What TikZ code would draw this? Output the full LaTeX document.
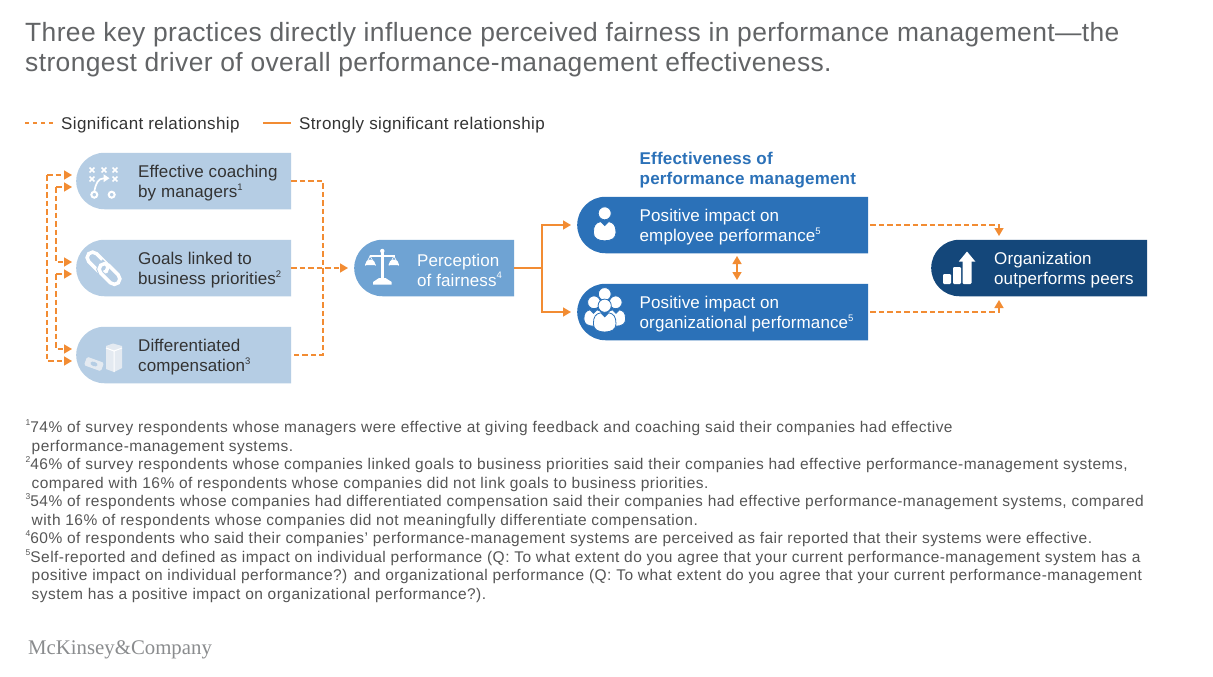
\documentclass[tikz,border=0pt]{standalone}
\usepackage{fontspec}
\setmainfont{Liberation Sans}
\newfontfamily\logofont{Liberation Serif}
\usetikzlibrary{arrows.meta,shapes.misc,calc}
\definecolor{orng}{HTML}{F28C33}
\definecolor{lightblue}{HTML}{B5CDE4}
\definecolor{midblue}{HTML}{6FA3D3}
\definecolor{strongblue}{HTML}{2B71B8}
\definecolor{navy}{HTML}{14477A}
\definecolor{titlegray}{HTML}{626466}
\definecolor{bodygray}{HTML}{333333}
\definecolor{notegray}{HTML}{555555}
\definecolor{logogray}{HTML}{8A8C8E}
\definecolor{palewhite}{HTML}{E4EAF1}
\newcommand{\fs}[2]{\fontsize{#1}{#2}\selectfont}
\newcommand{\sps}[1]{\raisebox{.42em}{\fs{9.5}{9.5}#1}}
\newcommand{\nsp}[1]{\raisebox{.42em}{\fs{8.5}{8.5}#1}}
\newcommand{\headshape}[3]{\fill[white,draw=strongblue,line width=.8pt] (#1,#2) circle (#3);}
\newcommand{\bodyshape}[3]{% x y scale
  \begin{scope}[shift={(#1,#2)},scale=#3]
    \fill[white,draw=strongblue,line width=.8pt] (-4,-1.4) -- (0,2.6) -- (4,-1.4)
      .. controls (9,-.5) and (11.3,2.5) .. (11.3,9.5) .. controls (11.3,15.5) and (6.5,17.8) .. (0,17.8)
      .. controls (-6.5,17.8) and (-11.3,15.5) .. (-11.3,9.5) .. controls (-11.3,2.5) and (-9,-.5) .. (-4,-1.4) -- cycle;
  \end{scope}}
\newcommand{\xmark}[2]{\draw[white,line width=1.7pt] (#1-2.4,#2-2.4) -- (#1+2.4,#2+2.4) (#1-2.4,#2+2.4) -- (#1+2.4,#2-2.4);}
\tikzset{
  x=1pt,y=-1pt,
  pill/.style={rounded rectangle,rounded rectangle right arc=none,minimum height=56.5pt,inner sep=0pt,draw=none,anchor=west},
  practice/.style={pill,fill=lightblue,minimum width=215pt},
  fairness/.style={pill,fill=midblue,minimum width=160pt},
  impact/.style={pill,fill=strongblue,minimum width=291pt},
  outcome/.style={pill,fill=navy,minimum width=216pt},
  darktext/.style={anchor=west,align=left,inner sep=0pt,text=bodygray,font=\fs{17}{20}\addfontfeatures{LetterSpace=0.6}},
  lighttext/.style={anchor=west,align=left,inner sep=0pt,text=white,font=\fs{17}{20}\addfontfeatures{LetterSpace=0.6}},
  headtext/.style={anchor=west,align=left,inner sep=0pt,text=strongblue,font=\fs{17}{20}\bfseries\addfontfeatures{LetterSpace=1.1}},
  titleline/.style={anchor=base west,inner sep=0pt,text=titlegray,font=\fs{26.4}{30}\addfontfeatures{LetterSpace=1.5}},
  legendtext/.style={anchor=base west,inner sep=0pt,text=bodygray,font=\fs{17}{20}\addfontfeatures{LetterSpace=2.2}},
  noteline/.style={anchor=base west,inner sep=0pt,text=notegray,font=\fs{15.5}{18}\addfontfeatures{LetterSpace=3.0}},
  solidlink/.style={draw=orng,line width=1.4pt},
  dashlink/.style={draw=orng,line width=1.5pt,dash pattern=on 5.5pt off 3pt},
  tip/.style={-{Triangle[length=8pt,width=9pt]}},
  tips/.style={{Triangle[length=8pt,width=9pt]}-{Triangle[length=8pt,width=9pt]}}
}
\begin{document}
\begin{tikzpicture}
\useasboundingbox (0,0) rectangle (1213,677);
\fill[white] (0,0) rectangle (1213,677);
% title
\node[titleline] (t1) at (25,42) {Three key practices directly influence perceived fairness in performance management—the};
\node[titleline] (t2) at (25,71) {strongest driver of overall performance-management effectiveness.};
% legend
\coordinate (ld1) at (25,123); \coordinate (ld2) at (54,123);
\coordinate (ls1) at (263,123); \coordinate (ls2) at (291,123);
\draw[dashlink,line width=1.2pt,dash pattern=on 4pt off 4pt] (ld1) -- (ld2);
\draw[solidlink] (ls1) -- (ls2);
\node[legendtext] (lt1) at (61,129) {Significant relationship};
\node[legendtext] (lt2) at (299,129) {Strongly significant relationship};
% boxes
\node[practice] (b1) at (76,181) {};
\node[practice] (b2) at (76,268) {};
\node[practice] (b3) at (76,355) {};
\node[fairness] (fair) at (354,268) {};
\node[impact] (imp1) at (577,225) {};
\node[impact] (imp2) at (577,312) {};
\node[outcome] (org) at (931,268) {};
% box texts
\node[darktext] (b1t) at (138,183) {Effective coaching\\by managers\sps{1}};
\node[darktext] (b2t) at (138,270) {Goals linked to\\business priorities\sps{2}};
\node[darktext] (b3t) at (138,357) {Differentiated\\compensation\sps{3}};
\node[lighttext] (fairt) at (417,270) {Perception\\of fairness\sps{4}};
\node[lighttext] (imp1t) at (639.5,227) {Positive impact on\\employee performance\sps{5}};
\node[lighttext] (imp2t) at (639.5,314) {Positive impact on\\organizational performance\sps{5}};
\node[lighttext] (orgt) at (994,270) {Organization\\outperforms peers};
\node[headtext] (efft) at (639.5,170.5) {Effectiveness of\\performance management};
% ports
\coordinate (b1a) at ($(b1.west)+(-4,-6)$);
\coordinate (b1b) at ($(b1.west)+(-4,6)$);
\coordinate (b2a) at ($(b2.west)+(-4,-6)$);
\coordinate (b2b) at ($(b2.west)+(-4,6)$);
\coordinate (b3a) at ($(b3.west)+(-4,-6)$);
\coordinate (b3b) at ($(b3.west)+(-4,6)$);
\coordinate (outer) at (47,0);
\coordinate (inner) at (56,0);
\coordinate (rbus) at (323,0);
\coordinate (fbus) at (542,0);
\coordinate (imp1w) at ($(imp1.west)+(-6,0)$);
\coordinate (imp2w) at ($(imp2.west)+(-6,0)$);
\coordinate (fairw) at ($(fair.west)+(-6,0)$);
\coordinate (orgn) at (999,236);
\coordinate (orgs) at (999,300);
\coordinate (dbl1) at (737,256);
\coordinate (dbl2) at (737,280);
% connectors
\draw[dashlink,tip] (outer |- b1a) -- (b1a);
\draw[dashlink,tip] (outer |- b1a) -- (outer |- b3b) -- (b3b);
\draw[dashlink,tip] (inner |- b1b) -- (b1b);
\draw[dashlink,tip] (inner |- b1b) -- (inner |- b2a) -- (b2a);
\draw[dashlink,tip] (inner |- b2b) -- (b2b);
\draw[dashlink,tip] (inner |- b2b) -- (inner |- b3a) -- (b3a);
\draw[dashlink] (b1.east) -| (rbus |- b3.east) -- (b3.east);
\draw[dashlink,tip] (b2.east) -- (fairw);
\draw[solidlink] (fair.east) -- (fbus |- fair.east);
\draw[solidlink,tip] (fbus |- fair.east) |- (imp1w);
\draw[solidlink,tip] (fbus |- fair.east) |- (imp2w);
\draw[solidlink,tips] (dbl1) -- (dbl2);
\draw[dashlink,tip] ([xshift=2pt]imp1.east) -| (orgn);
\draw[dashlink,tip] ([xshift=2pt]imp2.east) -| (orgs);
% coaching icon
\xmark{92}{170}\xmark{104}{170}\xmark{115}{170}\xmark{92}{179}\xmark{115}{179}
\draw[white,line width=1.7pt] (94.3,191.5) .. controls (96,183) and (98,178.5) .. (104,178.3);
\fill[white] (109.5,178.2) -- (103.5,174.2) -- (103.5,182.2) -- cycle;
\draw[white,line width=2pt] (94.3,194.7) circle (3);
\draw[white,line width=2pt] (111.7,194.7) circle (3);
% chain icon
\begin{scope}[shift={(97.5,262.5)},rotate=-45]
  \draw[white,line width=3.5pt,rounded corners=5.5pt] (-12.4,-5.5) rectangle (12.4,5.5);
\end{scope}
\begin{scope}[shift={(109.5,274)},rotate=-45]
  \draw[lightblue,line width=5.5pt,rounded corners=5.5pt] (-12.4,-5.5) -- (-12.4,5.5) -- (0,5.5);
  \draw[white,line width=3.5pt,rounded corners=5.5pt] (-12.4,-5.5) rectangle (12.4,5.5);
\end{scope}
% compensation icon
\fill[palewhite] (106,346) -- (113,343.5) -- (122,346) -- (122,368) -- (114,372) -- (106,369) -- cycle;
\draw[white,line width=1pt] (106,348) -- (114,351) -- (122,348) (114,351) -- (114,372);
\begin{scope}[shift={(94,364)},rotate=-20]
  \fill[palewhite,rounded corners=1.5pt] (-9,-4.5) rectangle (9,4.5);
  \fill[lightblue] (0,0) ellipse (3.6 and 2.2);
\end{scope}
% scales icon
\fill[white] (380.7,252) rectangle (384,281);
\fill[white] (382.3,251) circle (2.2);
\fill[white] (373,284.5) -- (373,282) -- (379,278) -- (385.5,278) -- (391.7,282) -- (391.7,284.5) -- cycle;
\draw[white,line width=1.5pt] (370,256) -- (395,256);
\draw[white,line width=.7pt] (365.5,265.5) -- (370,256) -- (375.5,265.5) (389,265.5) -- (394,256) -- (398.5,265.5);
\fill[white] (365,265) arc[start angle=180,end angle=360,x radius=5.3,y radius=5.5] -- cycle;
\fill[white] (388.5,265) arc[start angle=180,end angle=360,x radius=5.3,y radius=5.5] -- cycle;
% person icons
\headshape{604.7}{213.3}{6.5}
\bodyshape{604.7}{223}{1}
\headshape{604.7}{294}{6.4}
\headshape{594}{302.3}{6.4}
\headshape{615.7}{302.3}{6.4}
\bodyshape{593.5}{311}{.85}
\bodyshape{616}{311}{.85}
\headshape{604.7}{305.7}{6.6}
\bodyshape{604.7}{314.2}{1}
% outperform icon
\fill[white,rounded corners=1.2pt] (943,274) rectangle (951,284);
\fill[white,rounded corners=1.2pt] (953,267) rectangle (961,284);
\fill[white,rounded corners=1.2pt] (962.5,258) rectangle (971.5,284);
\fill[white] (967,251.5) -- (975.3,261.5) -- (958.8,261.5) -- cycle;
% notes
\node[noteline] (n1a) at (25.5,432) {\nsp{1}74\% of survey respondents whose managers were effective at giving feedback and coaching said their companies had effective};
\node[noteline] (n1b) at (31.5,451) {performance-management systems.};
\node[noteline] (n2a) at (25.5,469.5) {\nsp{2}46\% of survey respondents whose companies linked goals to business priorities said their companies had effective performance-management systems,};
\node[noteline] (n2b) at (31.5,488) {compared with 16\% of respondents whose companies did not link goals to business priorities.};
\node[noteline] (n3a) at (25.5,506.5) {\nsp{3}54\% of respondents whose companies had differentiated compensation said their companies had effective performance-management systems, compared};
\node[noteline] (n3b) at (31.5,525) {with 16\% of respondents whose companies did not meaningfully differentiate compensation.};
\node[noteline] (n4a) at (25.5,543.5) {\nsp{4}60\% of respondents who said their companies’ performance-management systems are perceived as fair reported that their systems were effective.};
\node[noteline] (n5a) at (25.5,562) {\nsp{5}Self-reported and defined as impact on individual performance (Q: To what extent do you agree that your current performance-management system has a};
\node[noteline] (n5b) at (31.5,580.5) {positive impact on individual performance?) and organizational performance (Q: To what extent do you agree that your current performance-management};
\node[noteline] (n5c) at (31.5,599) {system has a positive impact on organizational performance?).};
% logo
\node[anchor=base west,inner sep=0pt,text=logogray,font=\logofont\fs{20.8}{24}] (logo) at (28,654) {McKinsey\&Company};
\end{tikzpicture}
\end{document}
